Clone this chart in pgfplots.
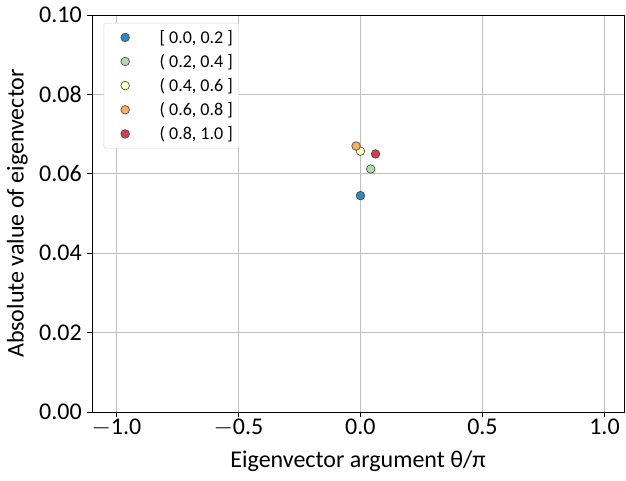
\documentclass[border=0pt]{standalone}
\usepackage{pgfplots}
\pgfplotsset{compat=1.18}
\usepackage{fontspec}
\setmainfont{Carlito}
\definecolor{c1}{HTML}{3288BD}
\definecolor{c2}{HTML}{ABDDA4}
\definecolor{c3}{HTML}{FFFFBF}
\definecolor{c4}{HTML}{FDAE61}
\definecolor{c5}{HTML}{D53E4F}
\begin{document}
\begin{tikzpicture}
\path[use as bounding box] (0pt,0pt) rectangle (626pt,481pt);
\begin{axis}[
  at={(92pt,69pt)}, anchor=south west,
  width=532pt, height=397pt, scale only axis,
  xmin=-1.1, xmax=1.08, ymin=0, ymax=0.1,
  xtick={-1,-0.5,0,0.5,1},
  ytick={0,0.02,0.04,0.06,0.08,0.1},
  xticklabels={$-$1.0,$-$0.5,0.0,0.5,1.0},
  ticklabel style={font=\fontsize{24}{24}\selectfont},
  yticklabel style={inner sep=5pt, /pgf/number format/.cd,fixed,fixed zerofill,precision=2},
  xticklabel style={inner sep=2pt},
  /pgf/number format/assume math mode=true,
  grid=major, grid style={gray!50, line width=0.8pt},
  axis line style={black, line width=0.8pt},
  tick style={black, line width=0.8pt},
  tick align=outside, major tick length=5pt,
  xtick pos=bottom, ytick pos=left,
  xlabel={Eigenvector argument θ/π},
  ylabel={Absolute value of eigenvector},
  label style={font=\fontsize{24}{24}\selectfont},
  xlabel style={yshift=-8pt},
  ylabel style={yshift=3pt},
  legend style={at={(0.022,0.98)}, anchor=north west, draw=gray!35, rounded corners=2pt,
    font=\fontsize{18}{18}\selectfont, row sep=5.5pt, inner xsep=4pt, inner ysep=5pt},
  legend cell align=left,
  legend image code/.code={\path (0cm,0cm) (1.1cm,0cm); \draw[mark repeat=2,mark phase=2,#1] plot coordinates {(0.2cm,0cm)(0.6cm,0cm)(1.0cm,0cm)};},
]
\addplot[only marks, mark=*, mark size=4.3pt, mark options={fill=c1, draw=black!75, line width=0.6pt}] coordinates {(0.0,0.0545)};
\addlegendentry{\hspace{18pt}[ 0.0, 0.2 ]\hspace{4pt}}
\addplot[only marks, mark=*, mark size=4.3pt, mark options={fill=c2, draw=black!75, line width=0.6pt}] coordinates {(0.042,0.0612)};
\addlegendentry{\hspace{18pt}( 0.2, 0.4 ]\hspace{4pt}}
\addplot[only marks, mark=*, mark size=4.3pt, mark options={fill=c3, draw=black!75, line width=0.6pt}] coordinates {(0.0,0.0657)};
\addlegendentry{\hspace{18pt}( 0.4, 0.6 ]\hspace{4pt}}
\addplot[only marks, mark=*, mark size=4.3pt, mark options={fill=c4, draw=black!75, line width=0.6pt}] coordinates {(-0.018,0.0670)};
\addlegendentry{\hspace{18pt}( 0.6, 0.8 ]\hspace{4pt}}
\addplot[only marks, mark=*, mark size=4.3pt, mark options={fill=c5, draw=black!75, line width=0.6pt}] coordinates {(0.062,0.0650)};
\addlegendentry{\hspace{18pt}( 0.8, 1.0 ]\hspace{4pt}}
\end{axis}
\end{tikzpicture}
\end{document}
